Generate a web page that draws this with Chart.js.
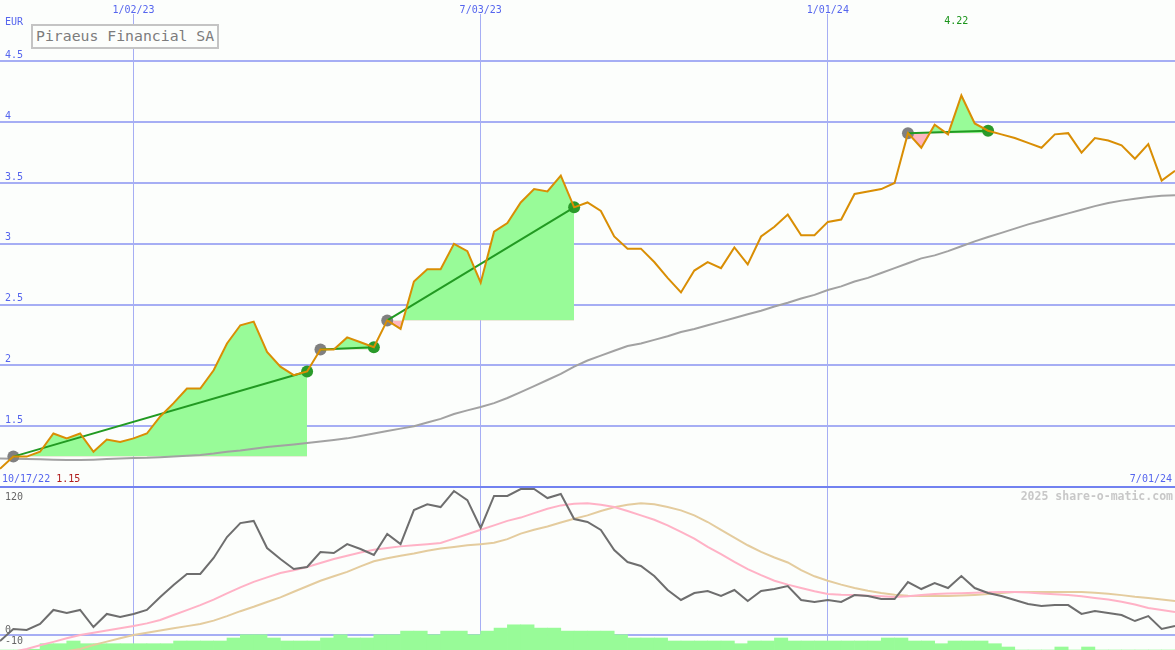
<!DOCTYPE html>
<html lang="en">
<head>
<meta charset="UTF-8">
<title>Piraeus Financial SA</title>
<script src="https://cdn.jsdelivr.net/npm/chart.js"></script>
<style>
  body { margin: 0; background: #fcfefc; }
  .wrap { position: relative; width: 1175px; height: 650px; overflow: hidden; font-family: "DejaVu Sans Mono", monospace; }
  canvas { position: absolute; left: 0; }
  #top { top: 0; }
  #bottom { top: 487px; }
  .sep { position: absolute; left: 0; top: 486px; width: 1175px; height: 2px; background: #7282f0; }
  .lbl { position: absolute; font-size: 10px; line-height: 12px; white-space: nowrap; color: #5565ee; }
  .title { position: absolute; left: 31px; top: 24px; width: 188px; height: 25px; box-sizing: border-box; white-space: nowrap;
           border: 2px solid #c4c4c4; background: #fcfefc; color: #7c7c7c; font-size: 14.8px; line-height: 20px; padding-left: 3px; }
  .mark { position: absolute; right: 2px; top: 489px; font-size: 11.5px; font-weight: bold; color: #c8c8c8; }
</style>
</head>
<body>
<div class="wrap">
  <canvas id="top" width="1175" height="487"></canvas>
  <canvas id="bottom" width="1175" height="163"></canvas>
  <div class="sep"></div>
  <div class="lbl" style="left:5px; top:16px;">EUR</div>
  <div class="title">Piraeus Financial SA</div>
  <div class="lbl" id="maxLbl" style="top:15px; color:#1a941a; transform:translateX(-50%);"></div>
  <div class="lbl" style="left:2px; top:473px;"><span id="firstLbl"></span> <span id="minLbl" style="color:#b01c1c;"></span></div>
  <div class="lbl" id="lastLbl" style="right:3px; top:473px;"></div>
  <div class="mark">2025 share-o-matic.com</div>
</div>

<script>
    // weekly closes, one per week; week 0 is the left edge of the chart
    var firstDate = '10/17/22';
    var lastDate = '7/01/24';
    var dateLabels = ['1/02/23', '7/03/23', '1/01/24'];
    var dateWeeks = [10, 36, 62];

    var price = [1.15, 1.25, 1.25, 1.29, 1.44, 1.40, 1.44, 1.29, 1.39, 1.37,
        1.40, 1.44, 1.58, 1.69, 1.81, 1.81, 1.96, 2.18, 2.33, 2.36,
        2.11, 1.99, 1.92, 1.95, 2.13, 2.13, 2.23, 2.19, 2.15, 2.37,
        2.30, 2.69, 2.79, 2.79, 3.00, 2.94, 2.68, 3.10, 3.17, 3.34,
        3.45, 3.43, 3.56, 3.30, 3.34, 3.27, 3.06, 2.96, 2.96, 2.85,
        2.72, 2.60, 2.78, 2.85, 2.80, 2.97, 2.83, 3.06, 3.14, 3.24,
        3.07, 3.07, 3.18, 3.20, 3.41, 3.43, 3.45, 3.50, 3.91, 3.79,
        3.98, 3.90, 4.22, 3.99, 3.93, 3.90, 3.87, 3.83, 3.79, 3.90,
        3.91, 3.75, 3.87, 3.85, 3.81, 3.70, 3.82, 3.52, 3.60];

    var average = [1.235, 1.233, 1.23, 1.228, 1.225, 1.222, 1.222, 1.225, 1.23, 1.235,
        1.238, 1.24, 1.245, 1.25, 1.256, 1.263, 1.275, 1.29, 1.30, 1.315,
        1.329, 1.34, 1.35, 1.362, 1.374, 1.386, 1.40, 1.42, 1.44, 1.46,
        1.48, 1.50, 1.53, 1.56, 1.60, 1.63, 1.658, 1.69, 1.732, 1.78,
        1.83, 1.88, 1.93, 1.99, 2.04, 2.08, 2.12, 2.16, 2.18, 2.21,
        2.24, 2.275, 2.30, 2.33, 2.36, 2.39, 2.42, 2.45, 2.485, 2.515,
        2.55, 2.58, 2.62, 2.65, 2.69, 2.72, 2.76, 2.80, 2.84, 2.88,
        2.905, 2.94, 2.98, 3.02, 3.056, 3.09, 3.125, 3.16, 3.19, 3.22,
        3.25, 3.28, 3.31, 3.335, 3.355, 3.37, 3.385, 3.395, 3.40];

    // buy / sell weeks
    var buyWeeks = [1, 24, 29, 68];
    var sellWeeks = [23, 28, 43, 74];

    var priceTicks = [1.5, 2, 2.5, 3, 3.5, 4, 4.5];

    // lower panel
    var oscillator = [-5.4, 5.4, 4.5, 9.9, 22.6, 19.9, 22.6, 7.2, 19, 16.2,
        19, 22.6, 34.3, 45.1, 55.1, 55.1, 69.5, 88.4, 101, 103,
        78.5, 68.6, 59.6, 61.4, 74.9, 74, 82, 77.6, 72.2, 91.2,
        82, 112.8, 118, 115.5, 130, 121.8, 96.6, 125.5, 125.5, 131.8,
        131.8, 123.6, 127.3, 104.7, 102, 94.8, 76.7, 65.9, 62.3, 53.2,
        40.6, 31.6, 37.9, 39.7, 35.2, 40.6, 30.7, 39.7, 41.5, 44.2,
        31.6, 29.8, 31.6, 29.8, 36.1, 35.2, 32.5, 32.5, 47.8, 41.5,
        46.9, 42.4, 53.2, 42.4, 37.9, 35.2, 31.6, 28, 26.2, 27,
        27, 19, 21.7, 19.9, 18, 12.6, 17.1, 5.4, 8.1];

    var oscFast = [-17, -15, -12.6, -9.3, -6.2, -3, 0, 2, 4, 6,
        8.1, 10.5, 13.5, 18, 22.5, 27, 32, 37.5, 43, 48,
        52, 56, 58.5, 61.4, 65, 68.6, 71.5, 74.5, 77, 78.5,
        80, 81, 82, 83, 87, 91, 95, 99, 103, 106,
        110, 114, 117, 118.5, 119, 117.5, 115.5, 112, 108, 104,
        99, 93, 87, 79.5, 73, 66, 59.5, 54, 49, 45.5,
        42.5, 39.5, 37, 36.3, 36, 35.5, 35, 34.3, 35, 36,
        37, 37.5, 37.8, 38.2, 38.5, 38.8, 38.8, 38.3, 37.5, 36.8,
        36.2, 35, 33.5, 32, 30, 27.5, 24.4, 22.5, 20.8];

    var oscSlow = [-35, -30, -25, -21, -17, -14.5, -12.6, -9, -6, -3,
        0, 2, 4, 6, 8, 9.9, 13, 17, 21.5, 25.5,
        29.8, 34, 39, 44, 49, 53, 57, 62, 66.5, 69.3,
        71.5, 73.5, 76, 78, 79.5, 81, 82, 83.2, 86.5, 91.5,
        95, 98, 101.5, 105, 108, 112, 115.3, 117.5, 119, 118,
        115.5, 112.5, 108, 102, 95, 88, 81, 75, 70, 65.5,
        58.5, 53, 49, 45.5, 42.5, 40, 38, 36.3, 35.5, 35.2,
        35.2, 35.2, 35.6, 36.2, 37, 38, 38.8, 38.8, 38.8, 38.8,
        38.8, 38.8, 38.2, 37.3, 36, 34.5, 33.3, 32, 30.7];

    var volume = [0, 0, 0.25, 2.1, 2.1, 3, 2.1, 2.1, 2.1, 2.1,
        2.1, 2.1, 2.1, 3, 3, 3, 3, 4, 5.1, 5.1,
        4, 3, 3, 3, 4, 5.1, 4, 4, 5.1, 5.1,
        6.3, 6.3, 5.1, 6.3, 6.3, 5.1, 6.3, 7.3, 8.4, 8.4,
        7.3, 7.3, 6.3, 6.3, 6.3, 6.3, 5.1, 4, 4, 4,
        3, 3, 3, 3, 3, 2.1, 3, 3, 4, 3,
        3, 3, 3, 3, 3, 3, 4, 4, 3, 3,
        2.1, 3, 3, 3, 2.1, 1, 0, 0, 0, 1,
        0, 1, 0, 0, 0, 0, 0, 0, 0];

    var oscTicks = [-10, 0, 120];

    Chart.defaults.font.family = 'DejaVu Sans Mono';
    Chart.defaults.font.size = 10;

    var gridBlue = '#a6aef4';
    var textBlue = '#5565ee';

    function pontos(lista, desde) {
        return lista.map(function (v, i) { return { x: i + (desde || 0), y: v }; });
    }

    // axis sizes are fixed so the plot area fills the canvas
    function semMargemY(s) { s.width = 0; s.paddingTop = 0; s.paddingBottom = 0; }

    // green line from each buy to its sell
    var linhaTrade = [];
    for (var k = 0; k < buyWeeks.length; k++) {
        linhaTrade.push({ x: buyWeeks[k], y: price[buyWeeks[k]] });
        linhaTrade.push({ x: sellWeeks[k], y: price[sellWeeks[k]] });
        linhaTrade.push({ x: sellWeeks[k], y: null });
    }

    var preenchimentos = buyWeeks.map(function (b, k) {
        return {
            data: pontos(price.slice(b, sellWeeks[k] + 1), b),
            borderWidth: 0,
            pointRadius: 0,
            fill: { target: { value: price[b] }, above: '#98fb98', below: '#ffb6c1' }
        };
    });

    var datasetsTopo = [
        { data: pontos(price), borderColor: '#d98e04', borderWidth: 2, pointRadius: 0 },
        { data: linhaTrade, borderColor: '#229a22', borderWidth: 2, pointRadius: 0, spanGaps: false },
        {
            data: sellWeeks.map(function (w) { return { x: w, y: price[w] }; }), showLine: false,
            pointRadius: 6, pointBackgroundColor: '#2a9a2a', pointBorderWidth: 0
        },
        {
            data: buyWeeks.map(function (w) { return { x: w, y: price[w] }; }), showLine: false,
            pointRadius: 6, pointBackgroundColor: '#808080', pointBorderWidth: 0
        },
        { data: pontos(average), borderColor: '#a2a2a2', borderWidth: 2, pointRadius: 0 }
    ].concat(preenchimentos);

    var topo = new Chart(document.getElementById('top'), {
        type: 'line',
        data: { datasets: datasetsTopo },
        options: {
            responsive: false,
            animation: false,
            events: [],
            layout: { autoPadding: false, padding: 0 },
            plugins: { legend: { display: false }, tooltip: { enabled: false } },
            scales: {
                x: {
                    type: 'linear', position: 'top', min: 0, max: 88, offset: false,
                    afterBuildTicks: function (s) { s.ticks = dateWeeks.map(function (v) { return { value: v }; }); },
                    afterFit: function (s) { s.height = 14; s.paddingLeft = 0; s.paddingRight = 0; },
                    grid: { color: gridBlue, lineWidth: 1, drawTicks: false, offset: false },
                    border: { display: false },
                    ticks: {
                        padding: -2, maxRotation: 0, autoSkip: false, color: textBlue,
                        callback: function (v, i) { return dateLabels[i]; }
                    }
                },
                y: {
                    type: 'linear', min: 1, max: 1 + 473 / 121.6,
                    afterBuildTicks: function (s) { s.ticks = priceTicks.map(function (v) { return { value: v }; }); },
                    afterFit: semMargemY,
                    grid: { color: gridBlue, lineWidth: 2, drawTicks: false },
                    border: { display: false },
                    ticks: {
                        mirror: true, padding: 5, labelOffset: -6, color: textBlue,
                        callback: function (v) { return String(v); }
                    }
                }
            }
        }
    });

    var baixo = new Chart(document.getElementById('bottom'), {
        type: 'line',
        data: {
            datasets: [
                { data: pontos(oscillator), borderColor: '#6e6e6e', borderWidth: 2, pointRadius: 0 },
                { data: pontos(oscFast), borderColor: '#ffb2c6', borderWidth: 2, pointRadius: 0 },
                { data: pontos(oscSlow), borderColor: '#e4cc9e', borderWidth: 2, pointRadius: 0 },
                {
                    type: 'bar', yAxisID: 'v', data: pontos(volume, 0.5),
                    backgroundColor: '#98fb98', borderWidth: 0, barPercentage: 1, categoryPercentage: 1
                }
            ]
        },
        options: {
            responsive: false,
            animation: false,
            events: [],
            layout: { autoPadding: false, padding: 0 },
            plugins: { legend: { display: false }, tooltip: { enabled: false } },
            scales: {
                x: {
                    type: 'linear', min: 0, max: 88, offset: false,
                    afterBuildTicks: function (s) { s.ticks = dateWeeks.map(function (v) { return { value: v }; }); },
                    afterFit: function (s) { s.height = 0; s.paddingLeft = 0; s.paddingRight = 0; },
                    grid: { color: gridBlue, lineWidth: 1, drawTicks: false, offset: false },
                    border: { display: false },
                    ticks: { display: false }
                },
                y: {
                    type: 'linear', min: -13.54, max: 133.6,
                    afterBuildTicks: function (s) { s.ticks = oscTicks.map(function (v) { return { value: v }; }); },
                    afterFit: semMargemY,
                    grid: {
                        color: function (c) { return c.tick && c.tick.value === 0 ? gridBlue : 'rgba(0,0,0,0)'; },
                        lineWidth: 2, drawTicks: false
                    },
                    border: { display: false },
                    ticks: { mirror: true, padding: 5, labelOffset: -5, color: '#666666' }
                },
                v: { display: false, min: 0, max: 163 / 3 }
            }
        }
    });

    // max / min labels
    var maximo = Math.max.apply(null, price);
    var minimo = Math.min.apply(null, price);
    var maxLbl = document.getElementById('maxLbl');
    maxLbl.textContent = maximo.toFixed(2);
    maxLbl.style.left = (topo.scales.x.getPixelForValue(price.indexOf(maximo)) - 5) + 'px';
    document.getElementById('minLbl').textContent = minimo.toFixed(2);
    document.getElementById('firstLbl').textContent = firstDate;
    document.getElementById('lastLbl').textContent = lastDate;
</script>
</body>
</html>
